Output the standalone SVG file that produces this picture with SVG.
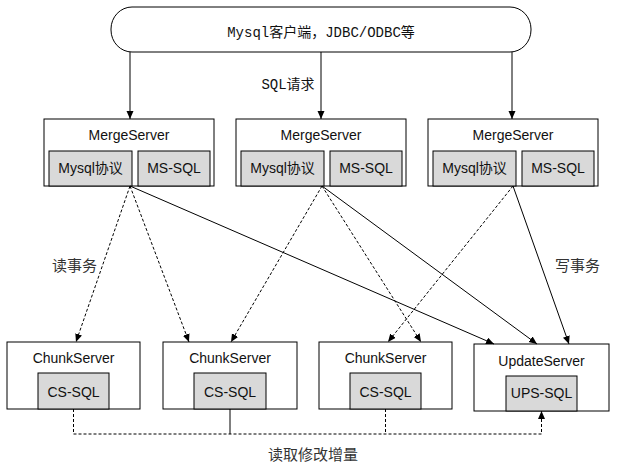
<svg xmlns="http://www.w3.org/2000/svg" width="617" height="469" viewBox="0 0 617 469">
<style>
.box{fill:#fff;stroke:#000;stroke-width:1}
.inner{fill:#d9d9d9;stroke:#000;stroke-width:1}
.t{font-family:"Liberation Sans","Noto Sans CJK SC",sans-serif;font-size:14px;fill:#111;text-anchor:middle}
.mono{font-family:"Liberation Mono","Noto Sans CJK SC",monospace;font-size:14px;fill:#111;text-anchor:middle}
.cjk{font-family:"Noto Sans CJK SC",sans-serif;font-size:15px;fill:#333;text-anchor:middle}
.ln{fill:none;stroke:#000;stroke-width:1}
.dash{fill:none;stroke:#000;stroke-width:1;stroke-dasharray:3,2}
</style>
<defs>
<marker id="ah" markerUnits="userSpaceOnUse" markerWidth="9" markerHeight="8" refX="8" refY="3.5" orient="auto">
<path d="M0,0 L8,3.5 L0,7 z" fill="#000"/>
</marker>
</defs>
<g id="client">
<rect class="box" x="111" y="7" width="420" height="45" rx="21" ry="22"/>
<text class="mono" x="321" y="37">Mysql客户端，JDBC/ODBC等</text>
</g>
<g id="merge1">
<rect class="box" x="44" y="119" width="170" height="67"/>
<text class="t" x="129" y="140">MergeServer</text>
<rect class="inner" x="49" y="151" width="83" height="35"/>
<text class="t" x="90.5" y="173">Mysql协议</text>
<rect class="inner" x="138" y="151" width="72" height="35"/>
<text class="t" x="174" y="173">MS-SQL</text>
</g>
<g id="merge2">
<rect class="box" x="236" y="119" width="170" height="67"/>
<text class="t" x="321" y="140">MergeServer</text>
<rect class="inner" x="241" y="151" width="83" height="35"/>
<text class="t" x="282.5" y="173">Mysql协议</text>
<rect class="inner" x="330" y="151" width="72" height="35"/>
<text class="t" x="366" y="173">MS-SQL</text>
</g>
<g id="merge3">
<rect class="box" x="428" y="119" width="170" height="67"/>
<text class="t" x="513" y="140">MergeServer</text>
<rect class="inner" x="433" y="151" width="83" height="35"/>
<text class="t" x="474.5" y="173">Mysql协议</text>
<rect class="inner" x="522" y="151" width="72" height="35"/>
<text class="t" x="558" y="173">MS-SQL</text>
</g>
<g id="chunk1">
<rect class="box" x="7" y="342" width="133" height="67"/>
<text class="t" x="73.5" y="363">ChunkServer</text>
<rect class="inner" x="38" y="373" width="71" height="36"/>
<text class="t" x="73.5" y="397">CS-SQL</text>
</g>
<g id="chunk2">
<rect class="box" x="163" y="342" width="134" height="67"/>
<text class="t" x="230" y="363">ChunkServer</text>
<rect class="inner" x="194" y="373" width="72" height="36"/>
<text class="t" x="230" y="397">CS-SQL</text>
</g>
<g id="chunk3">
<rect class="box" x="319" y="342" width="133" height="67"/>
<text class="t" x="385.5" y="363">ChunkServer</text>
<rect class="inner" x="350" y="373" width="71" height="36"/>
<text class="t" x="385.5" y="397">CS-SQL</text>
</g>
<g id="update">
<rect class="box" x="474" y="344" width="135" height="67"/>
<text class="t" x="541.5" y="366">UpdateServer</text>
<rect class="inner" x="506" y="376" width="71" height="35"/>
<text class="t" x="541.5" y="398">UPS-SQL</text>
</g>
<g id="connectors">
<line class="ln" x1="130" y1="52" x2="130" y2="119" marker-end="url(#ah)"/>
<line class="ln" x1="321" y1="52" x2="321" y2="119" marker-end="url(#ah)"/>
<line class="ln" x1="512" y1="52" x2="512" y2="119" marker-end="url(#ah)"/>
<line class="dash" x1="130" y1="186" x2="76" y2="342" marker-end="url(#ah)"/>
<line class="dash" x1="130" y1="186" x2="189" y2="342" marker-end="url(#ah)"/>
<line class="ln" x1="130" y1="186" x2="494" y2="344" marker-end="url(#ah)"/>
<line class="dash" x1="322" y1="186" x2="231" y2="342" marker-end="url(#ah)"/>
<line class="dash" x1="322" y1="186" x2="421" y2="342" marker-end="url(#ah)"/>
<line class="ln" x1="322" y1="186" x2="537" y2="344" marker-end="url(#ah)"/>
<line class="dash" x1="513" y1="186" x2="388" y2="342" marker-end="url(#ah)"/>
<line class="ln" x1="513" y1="186" x2="569" y2="344" marker-end="url(#ah)"/>
<path class="dash" d="M73.5,409 V434 H541.5 V411" marker-end="url(#ah)"/>
<line class="ln" x1="230" y1="409" x2="230" y2="434"/>
<line class="dash" x1="385.5" y1="409" x2="385.5" y2="434"/>
<text class="mono" x="288" y="89">SQL请求</text>
<text class="cjk" x="74.5" y="271">读事务</text>
<text class="cjk" x="577.5" y="271">写事务</text>
<text class="cjk" x="313" y="460">读取修改增量</text>
</g>
</svg>
